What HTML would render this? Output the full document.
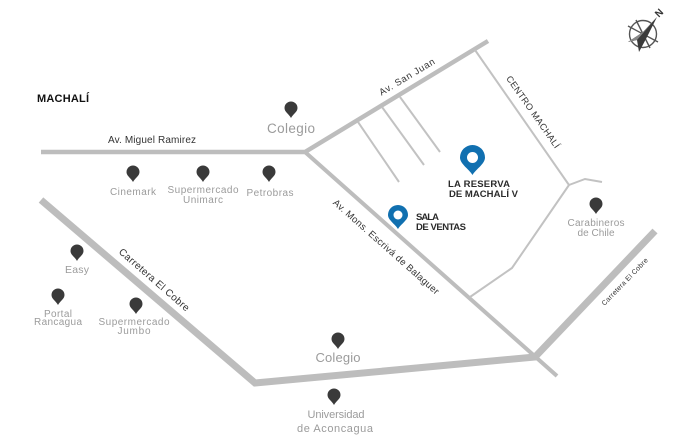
<!DOCTYPE html>
<html><head><meta charset="utf-8"><style>
html,body{margin:0;padding:0;background:#fff;}
svg{display:block;}
text{font-family:"Liberation Sans",sans-serif;}
.g{fill:#9b9b9b;}
.d{fill:#2b2b2b;}
</style></head><body>
<svg width="678" height="446" viewBox="0 0 678 446" xmlns="http://www.w3.org/2000/svg">
<defs>
<path id="pin" d="M0,0 C-2,-4 -6.5,-6 -6.5,-10 A6.5,6.5 0 1 1 6.5,-10 C6.5,-6 2,-4 0,0Z" fill="#3a3a3a"/>
</defs>
<g stroke="#bdbdbd" fill="none" stroke-linejoin="miter">
<polyline points="41,152 305,152 488,41" stroke-width="4.5"/>
<line x1="305" y1="152" x2="557" y2="376" stroke-width="4"/>
<g stroke-width="2" stroke="#c2c2c2">
<line x1="358" y1="122" x2="399" y2="182"/>
<line x1="382" y1="107" x2="424" y2="165"/>
<line x1="400" y1="97" x2="440" y2="152"/>
<line x1="475" y1="50" x2="569" y2="185"/>
<polyline points="569,185 585,179 602,182"/>
<polyline points="569,185 512,268 470,297"/>
</g>
<polyline points="41,200 255,383 535,357 655,231" stroke-width="7"/>
</g>
<!-- compass -->
<g stroke="#555" fill="none" stroke-width="1.4">
<circle cx="643" cy="34" r="13.5"/>
<line x1="628" y1="26" x2="658" y2="42"/>
<line x1="636" y1="20" x2="650" y2="48"/>
</g>
<polygon points="657,17 647,37 639,52 637,40 628,42 643,32" fill="#3a3a3a"/>
<polygon points="657,17 643,32 628,42 637,40" fill="#888"/>
<text x="656" y="19" font-size="10" font-weight="bold" fill="#333" transform="rotate(-45 656 15)">N</text>

<text x="37" y="102" font-size="11" font-weight="bold" fill="#111" textLength="52">MACHALÍ</text>
<text x="108" y="143" font-size="10" fill="#333" textLength="88">Av. Miguel Ramirez</text>
<text x="407" y="80" font-size="9.5" fill="#333" text-anchor="middle" textLength="63" transform="rotate(-31 407 77)">Av. San Juan</text>
<text x="533" y="115" font-size="9" fill="#333" text-anchor="middle" textLength="86" transform="rotate(55 533 112)">CENTRO MACHALÍ</text>
<text x="386" y="250" font-size="9.5" fill="#333" text-anchor="middle" textLength="138" transform="rotate(41.5 386 247)">Av. Mons. Escrivá de Balaguer</text>
<text x="154" y="283" font-size="10" fill="#333" text-anchor="middle" textLength="90" transform="rotate(41 154 280)">Carretera El Cobre</text>
<text x="625" y="284" font-size="7" fill="#333" text-anchor="middle" textLength="63" transform="rotate(-46 625 282)">Carretera El Cobre</text>

<!-- dark pins -->
<use href="#pin" x="291" y="118"/>
<use href="#pin" x="133" y="182"/>
<use href="#pin" x="203" y="182"/>
<use href="#pin" x="269" y="182"/>
<use href="#pin" x="77" y="261"/>
<use href="#pin" x="58" y="305"/>
<use href="#pin" x="136" y="314"/>
<use href="#pin" x="338" y="349"/>
<use href="#pin" x="334" y="405"/>
<use href="#pin" x="596" y="214"/>

<g class="g" text-anchor="middle">
<text x="291" y="133" font-size="13.5" textLength="48">Colegio</text>
<text x="133" y="195" font-size="10" textLength="46">Cinemark</text>
<text x="203" y="193" font-size="10" textLength="71">Supermercado</text>
<text x="203" y="203" font-size="10" textLength="40">Unimarc</text>
<text x="270" y="196" font-size="10" textLength="47">Petrobras</text>
<text x="77" y="273" font-size="10.5" textLength="24">Easy</text>
<text x="58" y="317" font-size="10" textLength="28">Portal</text>
<text x="58" y="325" font-size="10" textLength="48">Rancagua</text>
<text x="134" y="325" font-size="10" textLength="71">Supermercado</text>
<text x="134" y="334" font-size="10" textLength="33">Jumbo</text>
<text x="338" y="362" font-size="13" textLength="45">Colegio</text>
<text x="336" y="418" font-size="11" textLength="57">Universidad</text>
<text x="335" y="432" font-size="11" textLength="76">de Aconcagua</text>
<text x="596" y="226" font-size="10" textLength="57">Carabineros</text>
<text x="596" y="236" font-size="10" textLength="37">de Chile</text>
</g>

<!-- blue pins -->
<path d="M472.5,175 C469,169 460,164 460,157.5 A12.5,12.5 0 1 1 485,157.5 C485,164 476,169 472.5,175Z" fill="#1170b0"/>
<circle cx="472.5" cy="157.5" r="5.5" fill="#fff"/>
<path d="M398,229 C395,224 388,220 388,215 A10,10 0 1 1 408,215 C408,220 401,224 398,229Z" fill="#1170b0"/>
<circle cx="398" cy="215" r="4.5" fill="#fff"/>

<g class="d" font-weight="bold" font-size="9.5">
<text x="448" y="187" textLength="62">LA RESERVA</text>
<text x="449" y="197" textLength="69">DE MACHALÍ V</text>
<text x="416" y="220" textLength="23">SALA</text>
<text x="416" y="230" textLength="50">DE VENTAS</text>
</g>
</svg>
</body></html>
